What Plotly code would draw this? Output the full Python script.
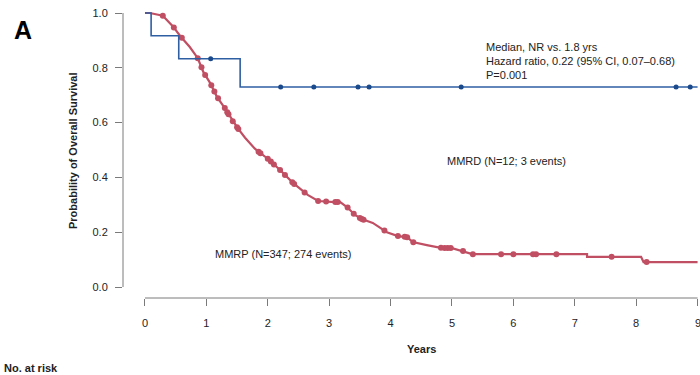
import numpy as np
import plotly.graph_objects as go

# ---- data ----
mmrp_time = [0, 0.08, 0.29, 0.46, 0.57, 0.73, 0.86, 0.95, 1.06, 1.17, 1.30, 1.43, 1.51, 1.63,
             1.79, 1.87, 1.99, 2.2, 2.41, 2.65, 2.82, 3.09, 3.18, 3.29, 3.42, 3.53, 3.71, 3.94,
             4.12, 4.27, 4.36, 4.59, 4.84, 5.0, 5.18, 5.33, 7.2, 7.2, 8.08, 8.12, 9.0]
mmrp_surv = [1.0, 1.0, 0.99, 0.95, 0.917, 0.876, 0.835, 0.785, 0.745, 0.695, 0.653, 0.605, 0.58,
             0.545, 0.505, 0.49, 0.47, 0.427, 0.38, 0.336, 0.314, 0.31, 0.31, 0.292, 0.263, 0.248,
             0.234, 0.20, 0.186, 0.182, 0.164, 0.153, 0.142, 0.142, 0.131, 0.12, 0.12, 0.11, 0.11,
             0.091, 0.091]
mmrp_censor = [0.29, 0.47, 0.6, 0.86, 0.92, 0.98, 1.08, 1.13, 1.19, 1.3, 1.34, 1.36, 1.43, 1.5,
               1.52, 1.85, 1.88, 2.0, 2.05, 2.1, 2.2, 2.28, 2.4, 2.43, 2.6, 2.82, 2.95, 3.1, 3.14,
               3.3, 3.4, 3.5, 3.53, 3.56, 3.9, 4.12, 4.23, 4.27, 4.37, 4.82, 4.88, 4.93, 4.98,
               5.18, 5.34, 5.8, 6.0, 6.32, 6.37, 6.7, 7.6, 8.17]

mmrd_time = [0, 0.1, 0.55, 1.55, 9.0]
mmrd_surv = [1.0, 0.917, 0.833, 0.73, 0.73]
mmrd_censor = [1.07, 2.21, 2.75, 3.47, 3.65, 5.15, 8.65, 8.88]

x_ticks = [0, 1, 2, 3, 4, 5, 6, 7, 8, 9]
y_ticks = [0.0, 0.2, 0.4, 0.6, 0.8, 1.0]
y_tick_labels = ["0.0", "0.2", "0.4", "0.6", "0.8", "1.0"]

RED = "#c14f63"
BLUE = "#2f5fa3"
BLUE_DOT = "#1b4a8c"
AX = "#7a7a7a"
TXT = "#222222"
FONT = "Liberation Sans, Arial, sans-serif"
NARROW = "Liberation Sans Narrow, Liberation Sans, Arial, sans-serif"


def step_value(times, survs, t):
    idx = np.searchsorted(np.asarray(times), t, side="right") - 1
    return np.asarray(survs)[idx]


fig = go.Figure()

fig.add_trace(go.Scatter(x=mmrp_time, y=mmrp_surv, mode="lines",
                         line=dict(color=RED, width=2.2), hoverinfo="skip"))
fig.add_trace(go.Scatter(x=mmrp_censor,
                         y=np.interp(mmrp_censor, mmrp_time, mmrp_surv),
                         mode="markers", marker=dict(color=RED, size=6),
                         cliponaxis=False, hoverinfo="skip"))

fig.add_trace(go.Scatter(x=mmrd_time, y=mmrd_surv, mode="lines", line_shape="hv",
                         line=dict(color=BLUE, width=1.6), hoverinfo="skip"))
fig.add_trace(go.Scatter(x=mmrd_censor,
                         y=[step_value(mmrd_time, mmrd_surv, t) for t in mmrd_censor],
                         mode="markers", marker=dict(color=BLUE_DOT, size=5),
                         cliponaxis=False, hoverinfo="skip"))

# detached axis lines (R base-graphics style)
fig.add_shape(type="line", xref="paper", yref="y", x0=0, x1=0, y0=0, y1=1,
              line=dict(color=AX, width=1))
fig.add_shape(type="line", xref="x", yref="paper", x0=0, x1=9, y0=0, y1=0,
              line=dict(color=AX, width=1))

notes = [
    ("Median, NR vs. 1.8 yrs", 0.0),
    ("Hazard ratio, 0.22 (95% CI, 0.07\u20130.68)", 1.0),
    ("P=0.001", 2.0),
]

fig.update_layout(
    width=700, height=375,
    margin=dict(l=123, r=2, t=10, b=77),
    paper_bgcolor="white", plot_bgcolor="white",
    showlegend=False,
    font=dict(family=FONT, size=11, color=TXT),
    xaxis=dict(range=[-0.358, 9.007], tickvals=x_ticks, ticktext=[str(v) for v in x_ticks],
               ticks="outside", ticklen=7, tickcolor=AX, showline=False, showgrid=False,
               zeroline=False, ticklabelstandoff=8, tickfont=dict(size=11, color=TXT)),
    yaxis=dict(range=[-0.0401, 1.011], tickvals=y_ticks, ticktext=y_tick_labels,
               ticks="outside", ticklen=7, tickcolor=AX, showline=False, showgrid=False,
               zeroline=False, ticklabelstandoff=5, tickfont=dict(size=11, color=TXT)),
)

annotations = [
    dict(text="<b>A</b>", xref="paper", yref="paper", x=-123 / 575 + 12 / 575, y=1 + (10 - 30) / 288,
         xanchor="left", yanchor="middle", showarrow=False,
         font=dict(family=FONT, size=25, color="#000000")),
    dict(text="<b>Probability of Overall Survival</b>", xref="paper", yref="paper",
         x=(73 - 123) / 575, y=1 - (151 - 10) / 288, textangle=-90,
         xanchor="center", yanchor="middle", showarrow=False,
         font=dict(family=NARROW, size=11, color=TXT)),
    dict(text="<b>Years</b>", xref="paper", yref="paper",
         x=(421 - 123) / 575, y=1 - (349 - 10) / 288,
         xanchor="center", yanchor="middle", showarrow=False,
         font=dict(family=NARROW, size=11, color=TXT)),
    dict(text="<b>No. at risk</b>", xref="paper", yref="paper",
         x=(2 - 123) / 575, y=1 - (368 - 10) / 288,
         xanchor="left", yanchor="middle", showarrow=False,
         font=dict(family=NARROW, size=11, color=TXT)),
    dict(text="MMRD (N=12; 3 events)", xref="x", yref="y",
         x=(445 - 145) / 61.4, y=(287 - 161) / 274,
         xanchor="left", yanchor="middle", showarrow=False,
         font=dict(family=FONT, size=11, color=TXT)),
    dict(text="MMRP (N=347; 274 events)", xref="x", yref="y",
         x=(213 - 145) / 61.4, y=(287 - 254) / 274,
         xanchor="left", yanchor="middle", showarrow=False,
         font=dict(family=FONT, size=11, color=TXT)),
    # last x tick label (hidden by plotly because it touches the page edge)
    dict(text=str(x_ticks[-1]), xref="x", yref="paper", x=x_ticks[-1],
         y=1 - (323 - 10) / 288, xanchor="center", yanchor="middle", showarrow=False,
         font=dict(family=FONT, size=11, color=TXT)),
]
for txt, k in notes:
    annotations.append(dict(text=txt, xref="x", yref="y",
                            x=(484 - 145) / 61.4, y=(287 - (47 + 14 * k)) / 274,
                            xanchor="left", yanchor="middle", showarrow=False,
                            font=dict(family=FONT, size=11, color=TXT)))
fig.update_layout(annotations=annotations)

fig.write_html("out.html")
